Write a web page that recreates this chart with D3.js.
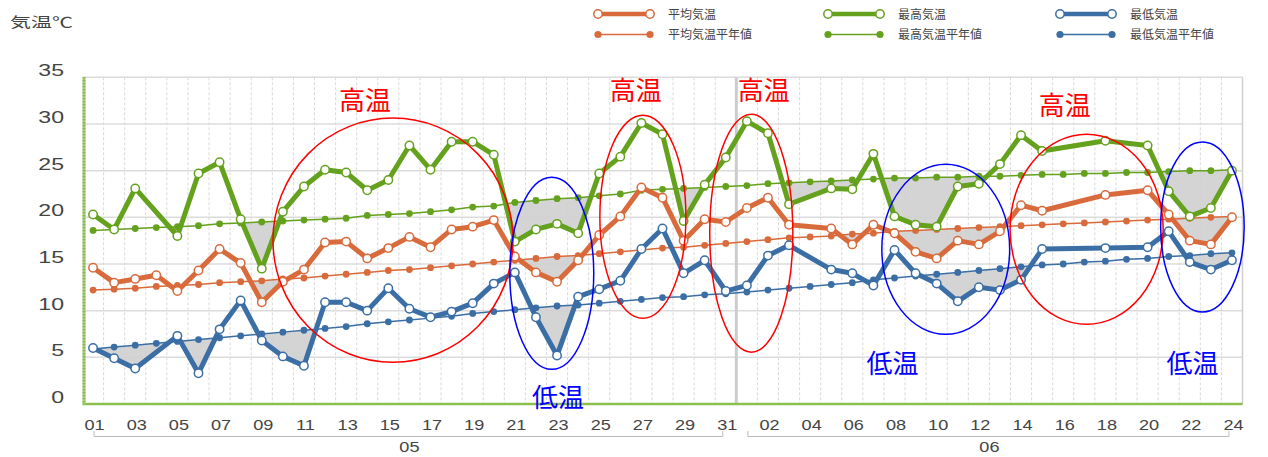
<!DOCTYPE html>
<html><head><meta charset="utf-8">
<script src="https://cdn.jsdelivr.net/npm/d3@7"></script>
<style>body{margin:0;background:#fff;}svg{display:block;}</style>
</head><body>
<svg id="c" width="1268" height="457"></svg>
<script>
// ---- data ----
const dates = ["05-01","05-02","05-03","05-04","05-05","05-06","05-07","05-08","05-09","05-10",
"05-11","05-12","05-13","05-14","05-15","05-16","05-17","05-18","05-19","05-20",
"05-21","05-22","05-23","05-24","05-25","05-26","05-27","05-28","05-29","05-30","05-31",
"06-01","06-02","06-03","06-04","06-05","06-06","06-07","06-08","06-09","06-10",
"06-11","06-12","06-13","06-14","06-15","06-16","06-17","06-18","06-19","06-20",
"06-21","06-22","06-23","06-24"];
const months = ["05","06"];
const yTicks = [0,5,10,15,20,25,30,35];

const meanTemp = [14.6,13.0,13.4,13.8,12.1,14.3,16.6,15.1,10.9,13.1,
14.4,17.3,17.4,15.6,16.7,17.9,16.8,18.7,19.0,19.7,
15.8,14.1,13.1,15.4,18.1,20.1,23.2,22.1,17.5,19.8,19.5,
21.0,22.1,19.2,null,18.8,17.1,19.2,18.3,16.3,15.6,
17.5,17.1,18.5,21.3,20.7,null,null,22.4,null,22.9,
20.3,17.5,17.1,20.0];
const maxTemp = [20.3,18.7,23.1,null,18.0,24.7,25.9,19.8,14.5,20.6,
23.3,25.1,24.8,22.9,24.0,27.7,25.1,28.1,28.1,26.7,
17.4,18.7,19.3,18.3,24.7,26.5,30.1,28.9,19.6,23.5,26.4,
30.3,29.0,21.4,null,23.1,23.0,26.8,20.1,19.2,19.0,
23.3,23.6,25.7,28.8,27.1,null,null,28.2,null,27.7,
22.8,20.1,21.0,25.0];
const minTemp = [6.0,4.9,3.8,null,7.3,3.3,8.0,11.1,6.8,5.1,
4.1,10.9,10.9,10.0,12.4,10.2,9.3,9.9,10.8,12.9,
14.1,9.3,5.2,11.5,12.3,13.2,16.6,18.8,14.0,15.4,12.1,
12.7,15.9,17.0,null,14.4,14.0,12.7,16.5,14.0,12.9,
11.0,12.5,12.2,13.3,16.6,null,null,16.7,null,16.8,
18.5,15.2,14.4,15.4];
const meanNormal = [12.2,12.3,12.4,12.6,12.7,12.8,13.0,13.1,13.2,13.4,
13.5,13.7,13.9,14.1,14.3,14.4,14.6,14.8,15.0,15.2,
15.4,15.6,15.8,15.9,16.1,16.3,16.5,16.7,16.8,17.0,17.2,
17.4,17.6,17.8,17.9,18.0,18.2,18.3,18.5,18.6,18.7,
18.8,18.9,19.0,19.1,19.2,19.3,19.4,19.5,19.6,19.7,
19.8,19.9,20.0,20.1];
const maxNormal = [18.6,18.7,18.8,18.9,19.0,19.1,19.3,19.4,19.5,19.6,
19.7,19.8,19.9,20.2,20.3,20.4,20.6,20.8,21.1,21.2,
21.6,21.8,22.0,22.1,22.3,22.5,22.9,23.0,23.1,23.2,23.3,
23.4,23.6,23.7,23.8,23.9,24.0,24.1,24.2,24.2,24.3,
24.3,24.4,24.4,24.5,24.6,24.6,24.7,24.7,24.8,24.8,
24.9,25.0,25.0,25.1];
const minNormal = [5.9,6.1,6.3,6.5,6.7,6.9,7.1,7.3,7.5,7.7,
7.9,8.1,8.3,8.6,8.8,9.0,9.2,9.4,9.7,9.9,
10.1,10.3,10.5,10.6,10.8,11.0,11.2,11.4,11.5,11.7,11.8,
12.0,12.2,12.4,12.6,12.8,13.0,13.3,13.5,13.7,13.9,
14.1,14.3,14.5,14.7,14.9,15.0,15.2,15.3,15.5,15.6,
15.8,15.9,16.1,16.2];

const seriesNames = ["平均気温","最高気温","最低気温"];
const normalNames = ["平均気温平年値","最高気温平年値","最低気温平年値"];
const seriesColors = ["#d96a3b","#64a11c","#3a6ea5"];

// annotations (in data units: day index, temperature)
const annotations = [
  {label:"高温", color:"#ff0000", cx:14.22, cy:17.55, rx:5.69, ry:13.08, tx:12.89, ty:32.55},
  {label:"低温", color:"#0000ff", cx:21.75, cy:14.0,  rx:1.99, ry:10.29, tx:22.04, ty:0.72},
  {label:"高温", color:"#ff0000", cx:26.07, cy:20.06, rx:2.04, ry:10.88, tx:25.73, ty:33.6},
  {label:"高温", color:"#ff0000", cx:31.21, cy:18.3,  rx:1.97, ry:12.75, tx:31.8,  ty:33.6},
  {label:"低温", color:"#0000ff", cx:40.43, cy:16.58, rx:3.03, ry:9.11,  tx:37.9,  ty:4.36},
  {label:"高温", color:"#ff0000", cx:47.11, cy:18.72, rx:3.63, ry:10.18, tx:46.07, ty:32.0},
  {label:"低温", color:"#0000ff", cx:52.6,  cy:18.97, rx:1.98, ry:9.11,  tx:52.13, ty:4.36}
];

// ---- chart ----
const svg = d3.select("#c");
const L = 82.5, R = 1242.5, T = 77.3, B = 404;
const n = dates.length;
const x = d3.scaleLinear().domain([-0.5, n - 0.5]).range([L, R]);
const y = d3.scaleLinear().domain([0, 35]).range([B, T]);
const idx = d3.range(n);
const latin = "'Liberation Sans', Arial, sans-serif";
const cjk = "'Noto Sans CJK JP', sans-serif";

// horizontal grid
svg.append("g").selectAll("line").data(yTicks).join("line")
  .attr("x1", L).attr("x2", R).attr("y1", d => y(d)).attr("y2", d => y(d))
  .attr("stroke", "#dcdcdc").attr("stroke-width", 1.5);
// vertical dashed grid at day boundaries
svg.append("g").selectAll("line").data(d3.range(n - 1)).join("line")
  .attr("x1", d => x(d + 0.5)).attr("x2", d => x(d + 0.5)).attr("y1", T).attr("y2", B)
  .attr("stroke", "#d9d9d9").attr("stroke-width", 1).attr("stroke-dasharray", "3,2");
// month separator
const sepIdx = dates.findIndex(d => d.startsWith(months[1])) - 0.5;
svg.append("line").attr("x1", x(sepIdx)).attr("x2", x(sepIdx)).attr("y1", T).attr("y2", B)
  .attr("stroke", "#cccccc").attr("stroke-width", 3);
// right border
svg.append("line").attr("x1", R).attr("x2", R).attr("y1", T).attr("y2", B)
  .attr("stroke", "#d0d0d0").attr("stroke-width", 1.5);

// below-normal grey fills
const actual = [meanTemp, maxTemp, minTemp];
const normals = [meanNormal, maxNormal, minNormal];
const defs = svg.append("defs");
actual.forEach((arr, k) => {
  const nm = normals[k];
  const clipArea = d3.area().x(i => x(i)).y0(B + 5).y1(i => y(nm[i]));
  defs.append("clipPath").attr("id", "clip" + k).append("path").attr("d", clipArea(idx));
  const pts = idx.filter(i => arr[i] != null);
  const ar = d3.area().x(i => x(i)).y0(i => y(nm[i])).y1(i => y(arr[i]));
  svg.append("path").attr("d", ar(pts)).attr("fill", "#cfcfcf").attr("fill-opacity", 0.9)
    .attr("clip-path", `url(#clip${k})`);
});

// normal lines
normals.forEach((nm, k) => {
  const g = svg.append("g");
  g.append("path").attr("d", d3.line().x(i => x(i)).y(i => y(nm[i]))(idx))
    .attr("fill", "none").attr("stroke", seriesColors[k]).attr("stroke-width", 1.5);
  g.selectAll("circle").data(idx).join("circle")
    .attr("cx", i => x(i)).attr("cy", i => y(nm[i])).attr("r", 3.4).attr("fill", seriesColors[k]);
});

// actual lines
actual.forEach((arr, k) => {
  const pts = idx.filter(i => arr[i] != null);
  const g = svg.append("g");
  g.append("path").attr("d", d3.line().x(i => x(i)).y(i => y(arr[i]))(pts))
    .attr("fill", "none").attr("stroke", seriesColors[k]).attr("stroke-width", 5)
    .attr("stroke-linejoin", "round");
  g.selectAll("circle").data(pts).join("circle")
    .attr("cx", i => x(i)).attr("cy", i => y(arr[i])).attr("r", 4.2)
    .attr("fill", "#fff").attr("stroke", seriesColors[k]).attr("stroke-width", 1.5);
});

// axes lines
svg.append("line").attr("x1", L).attr("x2", R).attr("y1", B).attr("y2", B)
  .attr("stroke", "#8cbf4c").attr("stroke-width", 2.5);
svg.append("line").attr("x1", L + 1.5).attr("x2", L + 1.5).attr("y1", T).attr("y2", B)
  .attr("stroke", "#a6cc7a").attr("stroke-width", 3);
svg.append("line").attr("x1", L + 1.5).attr("x2", L + 1.5).attr("y1", T).attr("y2", B)
  .attr("stroke", "#7fb24a").attr("stroke-width", 3).attr("stroke-dasharray", "1,2");

// y tick labels
svg.append("g").selectAll("text").data(yTicks).join("text")
  .attr("transform", d => `translate(64,${y(d) - 1}) scale(1.4,1)`)
  .attr("text-anchor", "end").attr("font-family", latin).attr("font-size", 16.5)
  .attr("fill", "#444").text(d => d);

// y title
svg.append("text").attr("transform", "translate(10,27) scale(1.5,1)")
  .attr("font-family", cjk).attr("font-size", 14).attr("fill", "#444").text("気温℃");

// x tick labels (every other day)
svg.append("g").selectAll("text").data(idx.filter(i => i % 2 === 0)).join("text")
  .attr("transform", i => `translate(${x(i) + 1.5},429.5) scale(1.25,1)`)
  .attr("text-anchor", "middle").attr("font-family", latin).attr("font-size", 14.5)
  .attr("fill", "#444").text(i => dates[i].slice(3));

// month brackets
months.forEach(m => {
  const ids = idx.filter(i => dates[i].startsWith(m));
  const x0 = x(ids[0]) + 1, x1 = x(ids[ids.length - 1]) - 3;
  svg.append("path").attr("d", `M${x0},431V436.5H${x1}V431`).attr("fill", "none")
    .attr("stroke", "#bbbbbb").attr("stroke-width", 1);
  svg.append("text").attr("transform", `translate(${(x(ids[0]) + x(ids[ids.length - 1])) / 2},452) scale(1.25,1)`)
    .attr("text-anchor", "middle").attr("font-family", latin).attr("font-size", 14.5)
    .attr("fill", "#444").text(m);
});

// legend
const legX = [598, 828, 1060];
seriesNames.forEach((nm, k) => {
  const lx = legX[k], c = seriesColors[k];
  svg.append("line").attr("x1", lx).attr("x2", lx + 52).attr("y1", 14).attr("y2", 14)
    .attr("stroke", c).attr("stroke-width", 4.5);
  [lx, lx + 52].forEach(cx => svg.append("circle").attr("cx", cx).attr("cy", 14).attr("r", 4.2)
    .attr("fill", "#fff").attr("stroke", c).attr("stroke-width", 1.5));
  svg.append("text").attr("x", lx + 70).attr("y", 18.5).attr("font-family", cjk)
    .attr("font-size", 12).attr("fill", "#444").text(nm);
  svg.append("line").attr("x1", lx).attr("x2", lx + 52).attr("y1", 34.5).attr("y2", 34.5)
    .attr("stroke", c).attr("stroke-width", 1.5);
  [lx, lx + 52].forEach(cx => svg.append("circle").attr("cx", cx).attr("cy", 34.5).attr("r", 3.6)
    .attr("fill", c));
  svg.append("text").attr("x", lx + 70).attr("y", 39).attr("font-family", cjk)
    .attr("font-size", 12).attr("fill", "#444").text(normalNames[k]);
});

// annotations
const pxPerDay = x(1) - x(0), pxPerDeg = y(0) - y(1);
annotations.forEach(a => {
  svg.append("ellipse").attr("cx", x(a.cx)).attr("cy", y(a.cy))
    .attr("rx", a.rx * pxPerDay).attr("ry", a.ry * pxPerDeg)
    .attr("fill", "none").attr("stroke", a.color).attr("stroke-width", 1.5);
  svg.append("text").attr("x", x(a.tx)).attr("y", y(a.ty)).attr("dy", "0.36em")
    .attr("text-anchor", "middle").attr("font-family", cjk).attr("font-size", 26)
    .attr("fill", a.color).text(a.label);
});
</script>
</body></html>
